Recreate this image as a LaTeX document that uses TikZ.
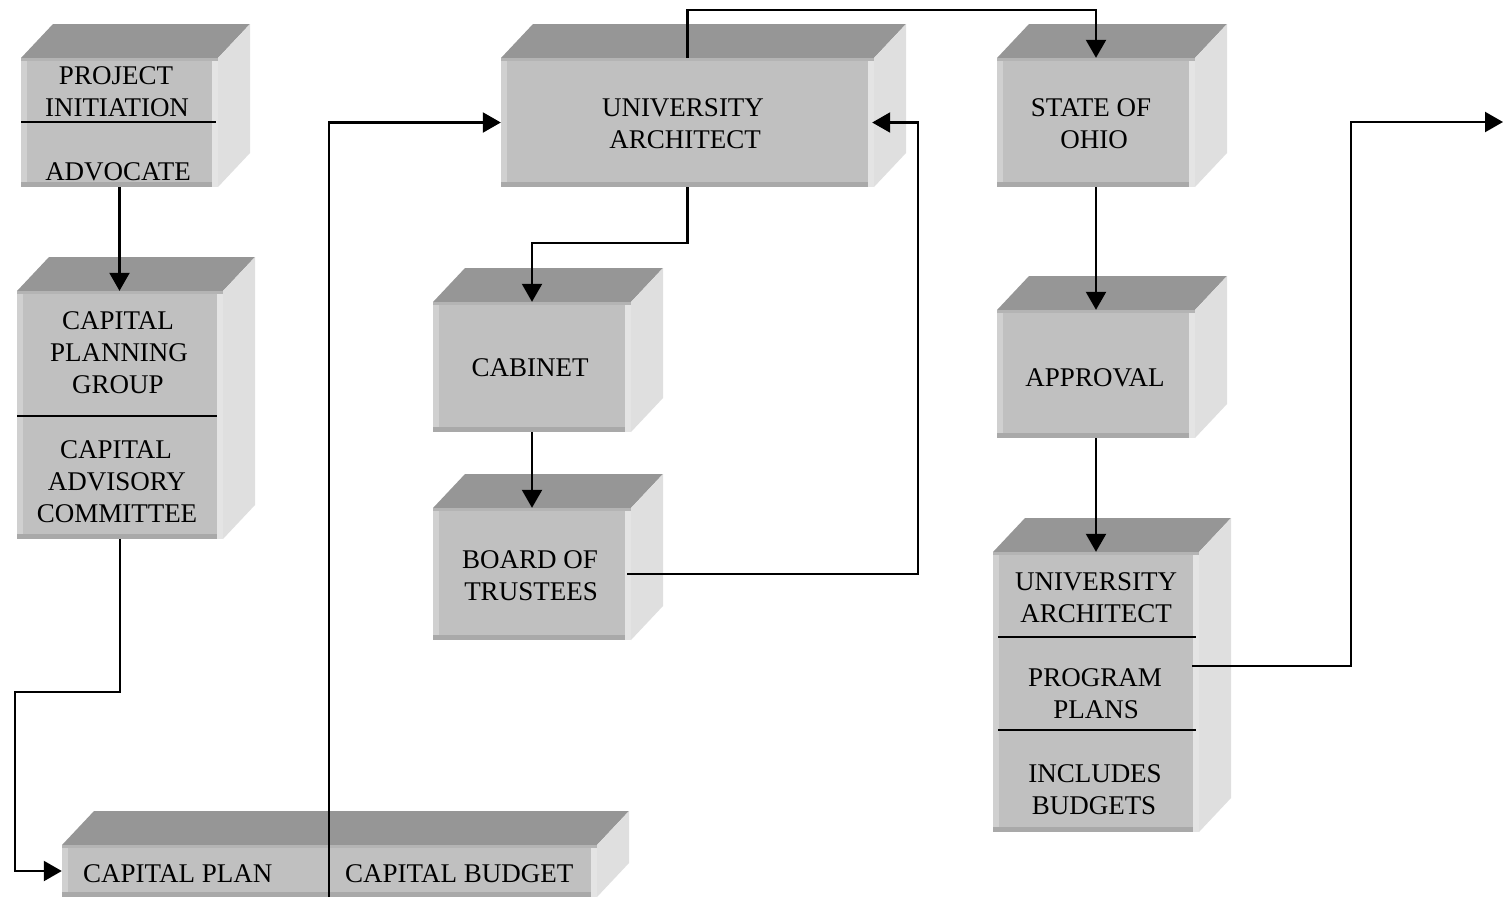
\documentclass[tikz,border=0pt]{standalone}
\usepackage{fontspec}
\setmainfont{Liberation Serif}
\usetikzlibrary{arrows.meta,fit}
\definecolor{topc}{HTML}{969696}
\definecolor{frontc}{HTML}{C0C0C0}
\definecolor{sidec}{HTML}{DFDFDF}
\definecolor{leftc}{HTML}{D0D0D0}
\definecolor{rstrip}{HTML}{E4E4E4}
\definecolor{bstrip}{HTML}{A9A9A9}
\definecolor{tstrip}{HTML}{B4B4B4}
\tikzset{
  conn/.style={line width=2.2pt, draw=black, -{Triangle[length=18pt,width=20pt]}},
  plain/.style={line width=2.2pt, draw=black},
  lbl/.style={font=\fontsize{27}{32}\selectfont, inner sep=0pt, anchor=base},
  boxnode/.style={inner sep=0pt, draw=none},
}
\newcommand{\cube}[5]{%
  \fill[topc] (#2,#3) -- ({#2+32},{#3-34}) -- ({#4+32},{#3-34}) -- (#4,#3) -- cycle;
  \fill[sidec] (#4,#3) -- ({#4+32},{#3-34}) -- ({#4+32},{#5-34}) -- (#4,#5) -- cycle;
  \fill[frontc] (#2,#3) rectangle (#4,#5);
  \fill[leftc] (#2,#3) rectangle ({#2+6},#5);
  \fill[rstrip] ({#4-6},#3) rectangle (#4,#5);
  \fill[tstrip] (#2,#3) rectangle (#4,{#3+3});
  \fill[bstrip] (#2,{#5-5}) rectangle ({#4-6},#5);
  \node[boxnode, fit={(#2,#3) (#4,#5)}] (#1) {};
}
\begin{document}
\begin{tikzpicture}[x=1pt,y=-1pt]
\useasboundingbox (0,0) rectangle (1503,898);
% boxes
\cube{pi}{21}{58}{218}{187}
\cube{cpg}{17}{291}{223}{539}
\cube{cp}{62}{845}{597}{897}
\cube{ua}{501}{58}{874}{187}
\cube{cab}{433}{302}{631}{432}
\cube{bot}{433}{508}{631}{640}
\cube{so}{997}{58}{1195}{187}
\cube{app}{997}{310}{1195}{438}
\cube{uab}{993}{552}{1199}{832}
% dividers
\draw[plain] (21,122) -- (216,122);
\draw[plain] (17,416) -- (217,416);
\draw[plain] (998,637) -- (1196,637);
\draw[plain] (998,730) -- (1196,730);
% texts
\node[lbl] (t1) at (116,84) {PROJECT};
\node[lbl] (t2) at (117,116) {INITIATION};
\node[lbl] (t3) at (118,180) {ADVOCATE};
\node[lbl] (t4) at (118,329) {CAPITAL};
\node[lbl] (t5) at (119,361) {PLANNING};
\node[lbl] (t6) at (118,393) {GROUP};
\node[lbl] (t7) at (116,458) {CAPITAL};
\node[lbl] (t8) at (117,490) {ADVISORY};
\node[lbl] (t9) at (117,522) {COMMITTEE};
\node[lbl, anchor=base west] (t10) at (83,882) {CAPITAL PLAN};
\node[lbl, anchor=base west] (t11) at (345,882) {CAPITAL BUDGET};
\node[lbl] (t12) at (683,116) {UNIVERSITY};
\node[lbl] (t13) at (685,148) {ARCHITECT};
\node[lbl] (t14) at (530,376) {CABINET};
\node[lbl] (t15) at (530,568) {BOARD OF};
\node[lbl] (t16) at (531,600) {TRUSTEES};
\node[lbl] (t17) at (1091,116) {STATE OF};
\node[lbl] (t18) at (1094,148) {OHIO};
\node[lbl] (t19) at (1095,386) {APPROVAL};
\node[lbl] (t20) at (1096,590) {UNIVERSITY};
\node[lbl] (t21) at (1096,622) {ARCHITECT};
\node[lbl] (t22) at (1095,686) {PROGRAM};
\node[lbl] (t23) at (1096,718) {PLANS};
\node[lbl] (t24) at (1095,782) {INCLUDES};
\node[lbl] (t25) at (1094,814) {BUDGETS};
% helper coordinates
\coordinate (c1) at (15,692);
\coordinate (cpdiv) at (329,897);
\coordinate (c2) at (800,10);
\coordinate (c3) at (600,243);
\coordinate (c4) at (918,300);
\coordinate (c5) at (1351,400);
\coordinate (outend) at (1503,122);
% connectors
\draw[conn] (pi.south) -- (pi.south |- cpg.north);
\draw[conn] (cpg.south) |- (c1) |- (cp.west);
\draw[conn] (cpdiv) |- (ua.west);
\draw[conn] (ua.north) |- (c2) -| (so.north);
\draw[conn] (ua.south) |- (c3) -| (cab.north);
\draw[conn] (cab.south) -- (bot.north);
\draw[conn] ([xshift=-4pt]bot.east) -| (c4) |- ([xshift=-2pt]ua.east);
\draw[conn] (so.south) -- (app.north);
\draw[conn] (app.south) -- (uab.north);
\draw[conn] ([yshift=26pt,xshift=-7pt]uab.east) -| (c5) |- (outend);
\end{tikzpicture}
\end{document}
